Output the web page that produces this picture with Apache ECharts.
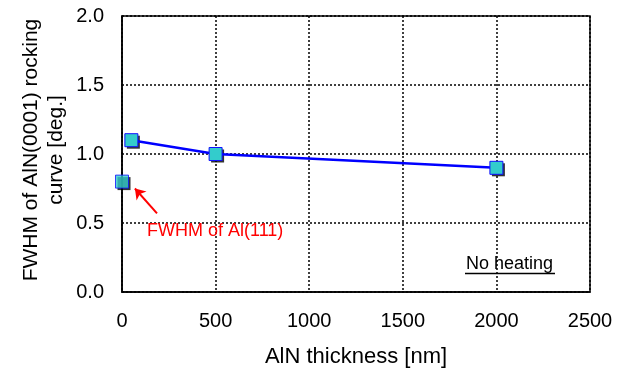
<!DOCTYPE html>
<html>
<head>
<meta charset="utf-8">
<script src="https://cdn.jsdelivr.net/npm/echarts@6/dist/echarts.min.js"></script>
<style>
  html, body { margin: 0; padding: 0; background: #fff; }
  #chart { width: 626px; height: 374px; }
</style>
</head>
<body>
<div id="chart"></div>
<script>
// AlN film series: thickness [nm] and rocking-curve FWHM [deg.]
const thicknessNm = [50, 500, 2000];
const fwhmDeg = [1.1, 1.0, 0.9];
// Al(111) reference point (no AlN layer)
const alThickness = [0];
const alFwhm = [0.8];
// Axis ranges and steps
const xTicks = { min: 0, max: 2500, step: 500 };
const yTicks = { min: 0, max: 2.0, step: 0.5 };
// Annotation arrow, in data units (tail -> head)
const arrowTail = [187, 0.57];
const arrowHead = [69, 0.75];

const FONT = 'Liberation Sans, Arial, sans-serif';

const filmPoints = thicknessNm.map((t, i) => [t, fwhmDeg[i]]);
const alPoints = alThickness.map((t, i) => [t, alFwhm[i]]);

const markerStyle = { color: '#33CCCC', borderColor: '#1010FF', borderWidth: 1 };

// Black drop shadow drawn as an offset square behind each marker
const shadowSeries = pts => ({
  type: 'scatter',
  data: pts,
  symbol: 'rect', symbolSize: 13, symbolOffset: [2, 2],
  itemStyle: { color: '#000' },
  silent: true,
  z: 2
});

const gridLine = { show: true, lineStyle: { color: '#000', type: [2, 2], width: 1.5 } };

const chart = echarts.init(document.getElementById('chart'), null, { renderer: 'canvas' });

chart.setOption({
  animation: false,
  backgroundColor: '#fff',
  grid: {
    left: 122, right: 36, top: 16, bottom: 82,
    outerBoundsMode: 'none',
    containLabel: false,
    show: true, borderColor: '#000', borderWidth: 1.5, backgroundColor: 'transparent'
  },
  xAxis: {
    type: 'value',
    min: xTicks.min, max: xTicks.max, interval: xTicks.step,
    name: 'AlN thickness [nm]',
    nameLocation: 'middle', nameGap: 54,
    nameTextStyle: { fontFamily: FONT, fontSize: 22, color: '#000' },
    axisLine: { show: true, lineStyle: { color: '#000', width: 1.5 } },
    axisTick: { show: false },
    axisLabel: { fontFamily: FONT, fontSize: 20, color: '#000', margin: 19, formatter: v => String(v) },
    splitLine: gridLine
  },
  yAxis: {
    type: 'value',
    min: yTicks.min, max: yTicks.max, interval: yTicks.step,
    axisLine: { show: true, lineStyle: { color: '#000', width: 1.5 } },
    axisTick: { show: false },
    axisLabel: {
      fontFamily: FONT, fontSize: 20, color: '#000', margin: 18,
      formatter: v => v.toFixed(1)
    },
    splitLine: gridLine
  },
  series: [
    shadowSeries(filmPoints),
    shadowSeries(alPoints),
    {
      type: 'line',
      data: filmPoints,
      symbol: 'rect', symbolSize: 13,
      lineStyle: { color: '#0000FF', width: 2.5 },
      itemStyle: markerStyle,
      z: 3
    },
    {
      type: 'scatter',
      data: alPoints,
      symbol: 'rect', symbolSize: 13,
      itemStyle: markerStyle,
      z: 3,
      markLine: {
        silent: true,
        symbol: ['none', 'arrow'],
        symbolSize: 10,
        label: { show: false },
        lineStyle: { color: '#FF0000', width: 2, type: 'solid' },
        data: [[{ coord: arrowTail }, { coord: arrowHead }]]
      }
    }
  ],
  graphic: [
    {
      // vertical axis title, two centred lines reading bottom to top
      type: 'text', x: 44, y: 150, rotation: Math.PI / 2, z: 10,
      style: {
        text: 'FWHM of AlN(0001) rocking\ncurve [deg.]',
        fill: '#000', font: '21px ' + FONT, lineHeight: 25,
        align: 'center', verticalAlign: 'middle',
        textAlign: 'center', textVerticalAlign: 'middle'
      }
    },
    {
      type: 'text', x: 147, y: 231, z: 10,
      style: { text: 'FWHM of Al(111)', fill: '#FF0000', font: '18px ' + FONT, textVerticalAlign: 'middle', verticalAlign: 'middle' }
    },
    {
      type: 'text', x: 466, y: 264, z: 10,
      style: { text: 'No heating', fill: '#000', font: '18px ' + FONT, textVerticalAlign: 'middle', verticalAlign: 'middle' }
    },
    {
      type: 'line', z: 10,
      shape: { x1: 465, y1: 273.5, x2: 555, y2: 273.5 },
      style: { stroke: '#000', lineWidth: 1.3 }
    }
  ]
});
</script>
</body>
</html>
